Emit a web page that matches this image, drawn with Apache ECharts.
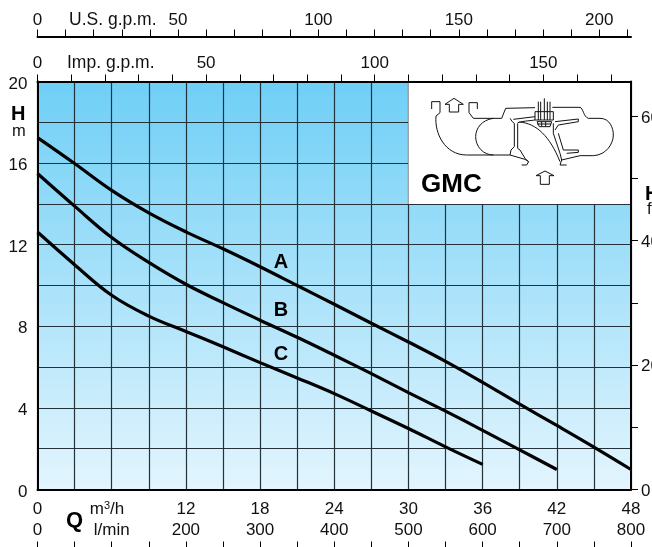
<!DOCTYPE html>
<html>
<head>
<meta charset="utf-8">
<style>html,body{margin:0;padding:0;background:#fff}#c{width:652px;height:547px}</style>
<script src="https://cdn.jsdelivr.net/npm/echarts@6/dist/echarts.min.js"></script>
</head>
<body>
<div id="c"></div>
<script>
var flowA = [0,3,6,9,12,15,18,21,24,27,30,33,36,39,42,45,48];
var headA = [17.25,15.98,14.66,13.56,12.63,11.8,10.92,10,9.08,8.15,7.23,6.28,5.25,4.18,3.14,2.08,0.98];
var flowB = [0,3,6,9,12,15,18,21,24,27,30,33,36,39,42];
var headB = [15.49,13.89,12.35,11.13,10.06,9.16,8.3,7.46,6.58,5.68,4.75,3.84,2.9,1.94,0.98];
var flowC = [0,3,6,9,12,15,18,21,24,27,30,33,36];
var headC = [12.62,11.02,9.52,8.5,7.75,7.0,6.22,5.47,4.7,3.85,2.99,2.09,1.23];
var curveNames = ['A','B','C'];
var curveLabelFlow = [19.7,19.7,19.7];
var curveLabelHead = [11.15,8.77,6.62];
var m3hLabels = ['0','m{s|3}/h  ','12','18','24','30','36','42','48'];
var lpmLabels = ['0','l/min','200','300','400','500','600','700','800'];
var usTicks = [0,10,20,30,40,50,60,70,80,90,100,110,120,130,140,150,160,170,180,190,200,210];
var usLabels = [0,50,100,150,200];
var impTicks = [0,10,20,30,40,50,60,70,80,90,100,110,120,130,140,150,160,170];
var impLabels = [0,50,100,150];
var feetTicks = [0,10,20,30,40,50,60];
var feetLabels = [0,20,40,60];
var headLabels = [0,4,8,12,16,20];

function pairs(x, y) { return x.map(function (v, i) { return [v, y[i]]; }); }
var FONT = '"Liberation Sans", Arial, sans-serif';
var numStyle = { color: '#111', fontFamily: FONT, fontSize: 17 };
function lab(o) { return Object.assign({}, numStyle, o); }

var pumpPath = [
 'M95 327 L95 305 L120 305 L120 338 L108 348 C103 400 135 465 200 465 L330 465',
 'M232 327 L232 308 L207 308 L207 338 L220 355 L305 355 L317 325 L405 323',
 'M457 322 L540 322 C550 325 550 350 565 355 L600 355 C630 355 640 385 640 405 C640 430 620 465 580 467 L540 467 L485 480 L480 495 L500 495',
 'M280 355 C245 360 227 385 227 410 C227 440 250 465 280 465',
 'M330 355 L337 365 L343 370 L343 440 L333 450 L330 465 L375 478 L386 485 L380 495 L365 495',
 'M353 370 L353 445 L360 450 L375 475 L385 485',
 'M353 368 C375 362 395 362 405 360 M340 358 L405 350',
 'M358 366 C410 370 450 410 480 485',
 'M460 370 L460 400 L480 460 L485 480 M475 400 L490 450 L535 450 L535 457 L500 460',
 'M465 365 L535 357 L535 365 L475 375 L465 390',
 'M405 335 L405 360 L460 360 L460 335 M405 335 L460 335',
 'M411 365 L455 365 L450 380 L418 380 Z M425 365 L425 380 M437 365 L437 380 M411 372 L453 372',
 'M415 305 L415 360 M422 305 L422 360 M433 295 L433 360 M442 305 L442 360 M450 305 L450 360',
 'M135 313 L162 295 L190 313 L176 313 L176 336 L148 336 L148 313 Z',
 'M408 527 L435 513 L462 527 L448 527 L448 553 L421 553 L421 527 Z'
].join(' ');
echarts.graphic.registerShape('pumpDiagram', echarts.graphic.extendPath(pumpPath, {}));

var LINE = { lineStyle: { color: '#000', width: 2 } };
var chart = echarts.init(document.getElementById('c'), null, { renderer: 'canvas' });
var option = {
  animation: false,
  backgroundColor: '#fff',
  grid: {
    show: true, left: 37.5, right: 21, top: 81.5, bottom: 57.5, borderWidth: 0,
    outerBoundsMode: 'none', containLabel: false,
    backgroundColor: new echarts.graphic.LinearGradient(0, 0, 0, 1, [
      { offset: 0, color: '#6fcff6' }, { offset: 1, color: '#e3f5fe' }
    ])
  },
  xAxis: [
    { type: 'value', position: 'bottom', min: 0, max: 48, interval: 3,
      axisLine: Object.assign({ show: true, onZero: false }, LINE),
      axisTick: { show: false },
      splitLine: { show: true, lineStyle: { color: '#24323a', width: 1.2 } },
      axisLabel: lab({ margin: 11,
        formatter: function (v) { return v % 6 ? '' : m3hLabels[v / 6]; },
        rich: { s: { fontFamily: FONT, fontSize: 11, color: '#111', verticalAlign: 'top', padding: [0, 0, 6, 0] } } }) },
    { type: 'value', position: 'bottom', offset: 58, min: 0, max: 800, interval: 50, z: 3,
      axisLine: { show: false, onZero: false },
      axisTick: { show: true, inside: true, length: 6, lineStyle: { color: '#000', width: 1 } },
      splitLine: { show: false },
      axisLabel: lab({ inside: true, margin: 9,
        formatter: function (v) { return v % 100 ? '' : lpmLabels[v / 100]; } }) },
    { type: 'value', position: 'top', min: 0, max: 176, z: 3,
      axisLine: Object.assign({ show: true, onZero: false }, LINE),
      axisTick: { show: true, length: 7, customValues: impTicks, lineStyle: { color: '#000', width: 1 } },
      splitLine: { show: false },
      axisLabel: lab({ margin: 10, customValues: impLabels }) },
    { type: 'value', position: 'top', offset: 45, min: 0, max: 211.3, z: 3,
      axisLine: Object.assign({ show: true, onZero: false }, LINE),
      axisTick: { show: true, length: 7, customValues: usTicks, lineStyle: { color: '#000', width: 1 } },
      splitLine: { show: false },
      axisLabel: lab({ margin: 8, customValues: usLabels }) }
  ],
  yAxis: [
    { type: 'value', position: 'left', min: 0, max: 20, interval: 2,
      axisLine: Object.assign({ show: true, onZero: false }, LINE),
      axisTick: { show: false },
      splitLine: { show: true, lineStyle: { color: '#24323a', width: 1.2 } },
      axisLabel: lab({ margin: 10, customValues: headLabels, verticalAlign: 'top', lineHeight: 5 }) },
    { type: 'value', position: 'right', min: 0, max: 65.6, z: 3,
      axisLine: Object.assign({ show: true, onZero: false }, LINE),
      axisTick: { show: true, length: 7, customValues: feetTicks, lineStyle: { color: '#000', width: 1 } },
      splitLine: { show: false },
      axisLabel: lab({ margin: 10, customValues: feetLabels, verticalAlign: 'top', lineHeight: 3 }) }
  ],
  series: [
    { type: 'line', name: 'A', data: pairs(flowA, headA), symbol: 'none', smooth: 0.4,
      lineStyle: { color: '#000', width: 3.2 }, z: 5,
      markArea: { silent: true, z: 1, itemStyle: { color: '#fff', opacity: 1 },
        data: [[{ coord: [30, 14] }, { coord: [48, 20] }]] } },
    { type: 'line', name: 'B', data: pairs(flowB, headB), symbol: 'none', smooth: 0.4,
      lineStyle: { color: '#000', width: 3.2 }, z: 5 },
    { type: 'line', name: 'C', data: pairs(flowC, headC), symbol: 'none', smooth: 0.4,
      lineStyle: { color: '#000', width: 3.2 }, z: 5 },
    { type: 'scatter', symbolSize: 0, z: 6, silent: true, itemStyle: { opacity: 1 },
      data: pairs(curveLabelFlow, curveLabelHead),
      label: { show: true, position: 'inside', opacity: 1,
        formatter: function (p) { return curveNames[p.dataIndex]; },
        color: '#000', fontFamily: FONT, fontWeight: 'bold', fontSize: 20 } }
  ],
  graphic: [
    { type: 'text', left: 69, top: 11, z: 10, style: { text: 'U.S. g.p.m.', fontFamily: FONT, fontSize: 17.5, fill: '#111' } },
    { type: 'text', left: 67, top: 54, z: 10, style: { text: 'Imp. g.p.m.', fontFamily: FONT, fontSize: 17.5, fill: '#111' } },
    { type: 'text', left: 11, top: 104, z: 10, style: { text: 'H', fontFamily: FONT, fontSize: 20, fontWeight: 'bold', fill: '#000' } },
    { type: 'text', left: 12, top: 123, z: 10, style: { text: 'm', fontFamily: FONT, fontSize: 16.5, fill: '#111' } },
    { type: 'text', x: 645, y: 184, z: 10, style: { text: 'H', fontFamily: FONT, fontSize: 20, fontWeight: 'bold', fill: '#000' } },
    { type: 'text', x: 647, y: 201, z: 10, style: { text: 'ft', fontFamily: FONT, fontSize: 16.5, fill: '#111' } },
    { type: 'text', left: 66, top: 510, z: 10, style: { text: 'Q', fontFamily: FONT, fontSize: 22, fontWeight: 'bold', fill: '#000' } },
    { type: 'text', left: 421, top: 172, z: 10, style: { text: 'GMC', fontFamily: FONT, fontSize: 26, fontWeight: 'bold', fill: '#000' } },
    { type: 'pumpDiagram', x: 400, y: 0, scaleX: 1 / 3, scaleY: 1 / 3, z: 10,
      style: { fill: 'none', stroke: '#111', lineWidth: 3 } }
  ]
};
chart.setOption(option);
</script>
</body>
</html>
